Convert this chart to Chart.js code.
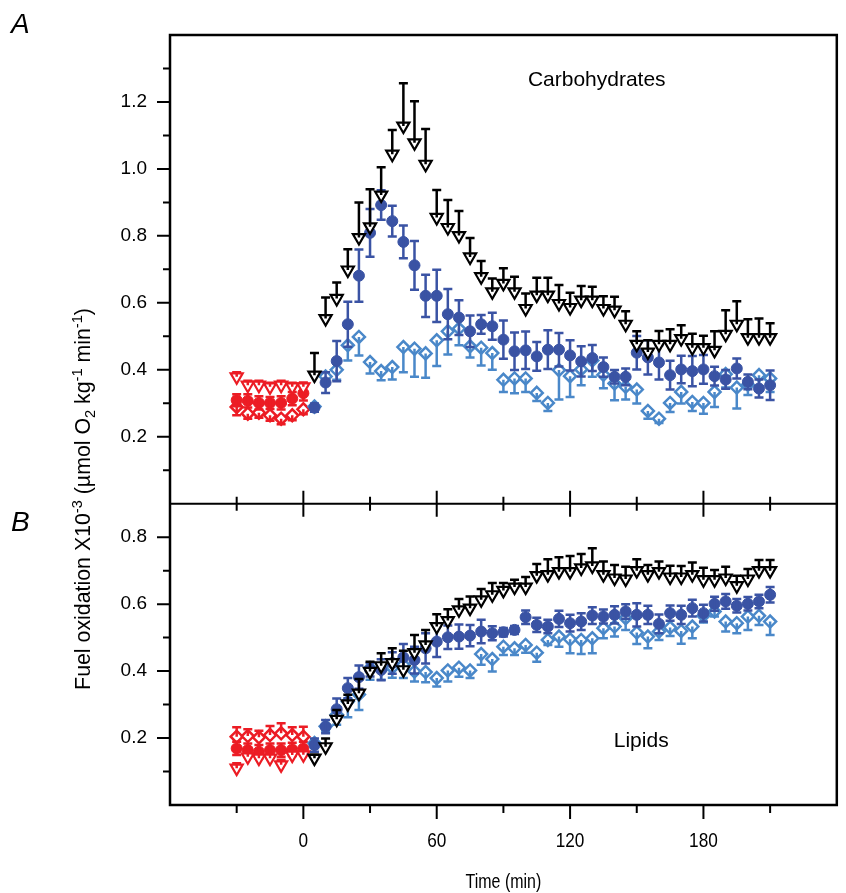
<!DOCTYPE html>
<html>
<head>
<meta charset="utf-8">
<script src="https://cdn.jsdelivr.net/npm/chart.js@4.4.1/dist/chart.umd.min.js"></script>
<style>
  html, body { margin: 0; padding: 0; background: #fff; }
</style>
</head>
<body>
<canvas id="fuelChart" width="846" height="893"></canvas>
<script>
// time points (min)
const baseTime = [-30, -25, -20, -15, -10, -5, 0];
const time = [5, 10, 15, 20, 25, 30, 35, 40, 45, 50, 55, 60, 65, 70, 75, 80, 85, 90, 95, 100,
  105, 110, 115, 120, 125, 130, 135, 140, 145, 150, 155, 160, 165, 170, 175, 180, 185, 190, 195, 200,
  205, 210];

// A: carbohydrates
const carbBaseTri = [0.379, 0.354, 0.354, 0.349, 0.354, 0.349, 0.349];
const carbBaseTriErr = [0.014, 0.013, 0.013, 0.012, 0.013, 0.012, 0.013];
const carbBaseCirc = [0.309, 0.307, 0.301, 0.301, 0.301, 0.314, 0.330];
const carbBaseCircErr = [0.018, 0.02, 0.02, 0.018, 0.02, 0.02, 0.022];
const carbBaseDia = [0.289, 0.269, 0.272, 0.264, 0.254, 0.264, 0.282];
const carbBaseDiaErr = [0.025, 0.015, 0.015, 0.016, 0.017, 0.015, 0.015];

const carbTri = [0.384, 0.553, 0.613, 0.698, 0.795, 0.827, 0.922, 1.044, 1.128, 1.078,
  1.014, 0.855, 0.825, 0.801, 0.737, 0.678, 0.633, 0.658, 0.633, 0.583,
  0.623, 0.623, 0.598, 0.586, 0.608, 0.608, 0.583, 0.578, 0.536, 0.476,
  0.453, 0.476, 0.476, 0.493, 0.466, 0.466, 0.458, 0.506, 0.536, 0.496,
  0.496, 0.496];
const carbTriErr = [0.066, 0.063, 0.048, 0.062, 0.105, 0.112, 0.083, 0.072, 0.128, 0.124,
  0.105, 0.082, 0.082, 0.073, 0.057, 0.047, 0.040, 0.045, 0.045, 0.045,
  0.052, 0.052, 0.055, 0.044, 0.042, 0.040, 0.037, 0.040, 0.039, 0.039,
  0.035, 0.040, 0.045, 0.040, 0.042, 0.036, 0.057, 0.072, 0.069, 0.055,
  0.057, 0.043];
const carbCirc = [0.287, 0.362, 0.426, 0.536, 0.681, 0.809, 0.892, 0.844, 0.782, 0.712,
  0.621, 0.621, 0.566, 0.556, 0.515, 0.536, 0.530, 0.490, 0.455, 0.458,
  0.440, 0.460, 0.460, 0.443, 0.425, 0.435, 0.408, 0.379, 0.379, 0.451,
  0.437, 0.422, 0.384, 0.401, 0.396, 0.401, 0.381, 0.371, 0.404, 0.364,
  0.344, 0.354];
const carbCircErr = [0.012, 0.031, 0.060, 0.067, 0.078, 0.071, 0.044, 0.046, 0.049, 0.073,
  0.063, 0.078, 0.075, 0.052, 0.047, 0.028, 0.040, 0.057, 0.056, 0.056,
  0.043, 0.058, 0.050, 0.045, 0.045, 0.039, 0.029, 0.020, 0.025, 0.050,
  0.051, 0.051, 0.043, 0.041, 0.045, 0.043, 0.028, 0.028, 0.030, 0.022,
  0.027, 0.044];
const carbDia = [0.290, 0.380, 0.400, 0.473, 0.498, 0.423, 0.396, 0.408, 0.468, 0.463,
  0.449, 0.488, 0.515, 0.523, 0.470, 0.466, 0.450, 0.370, 0.374, 0.374,
  0.331, 0.301, 0.399, 0.381, 0.401, 0.428, 0.385, 0.359, 0.349, 0.341,
  0.277, 0.254, 0.301, 0.334, 0.304, 0.301, 0.334, 0.387, 0.347, 0.355,
  0.384, 0.374];
const carbDiaErr = [0.015, 0.02, 0.03, 0.045, 0.055, 0.034, 0.027, 0.037, 0.075, 0.084,
  0.073, 0.077, 0.069, 0.050, 0.033, 0.053, 0.050, 0.036, 0.044, 0.040,
  0.024, 0.024, 0.088, 0.062, 0.047, 0.049, 0.040, 0.050, 0.038, 0.042,
  0.023, 0.013, 0.027, 0.035, 0.027, 0.032, 0.045, 0.040, 0.063, 0.030,
  0.037, 0.040];

// B: lipids
const lipBaseTri = [0.110, 0.144, 0.140, 0.140, 0.120, 0.149, 0.150];
const lipBaseTriErr = [0.015, 0.015, 0.018, 0.015, 0.015, 0.015, 0.015];
const lipBaseCirc = [0.169, 0.164, 0.159, 0.164, 0.164, 0.166, 0.169];
const lipBaseCircErr = [0.02, 0.02, 0.02, 0.02, 0.02, 0.02, 0.02];
const lipBaseDia = [0.204, 0.206, 0.202, 0.209, 0.214, 0.209, 0.204];
const lipBaseDiaErr = [0.028, 0.02, 0.02, 0.027, 0.03, 0.023, 0.03];

const lipTri = [0.140, 0.174, 0.256, 0.302, 0.334, 0.399, 0.416, 0.425, 0.404, 0.455,
  0.478, 0.533, 0.551, 0.583, 0.588, 0.613, 0.628, 0.641, 0.651, 0.651,
  0.685, 0.688, 0.697, 0.697, 0.708, 0.714, 0.688, 0.678, 0.675, 0.700,
  0.688, 0.697, 0.681, 0.681, 0.688, 0.673, 0.673, 0.678, 0.655, 0.675,
  0.700, 0.700];
const lipTriErr = [0.01, 0.025, 0.028, 0.027, 0.042, 0.029, 0.037, 0.043, 0.057, 0.053,
  0.045, 0.037, 0.034, 0.032, 0.035, 0.032, 0.035, 0.022, 0.022, 0.030,
  0.035, 0.046, 0.043, 0.047, 0.042, 0.053, 0.039, 0.039, 0.037, 0.034,
  0.029, 0.030, 0.034, 0.033, 0.036, 0.036, 0.029, 0.034, 0.030, 0.030,
  0.032, 0.032];
const lipCirc = [0.179, 0.234, 0.286, 0.349, 0.382, 0.404, 0.404, 0.424, 0.441, 0.433,
  0.468, 0.488, 0.501, 0.503, 0.506, 0.518, 0.513, 0.516, 0.523, 0.561,
  0.538, 0.533, 0.556, 0.543, 0.548, 0.566, 0.563, 0.568, 0.578, 0.568,
  0.568, 0.541, 0.573, 0.568, 0.588, 0.573, 0.601, 0.608, 0.595, 0.601,
  0.608, 0.628];
const lipCircErr = [0.02, 0.02, 0.032, 0.03, 0.035, 0.02, 0.031, 0.032, 0.04, 0.04,
  0.045, 0.046, 0.035, 0.036, 0.032, 0.035, 0.021, 0.013, 0.012, 0.02,
  0.021, 0.02, 0.024, 0.025, 0.025, 0.025, 0.021, 0.026, 0.022, 0.035,
  0.027, 0.028, 0.023, 0.027, 0.025, 0.025, 0.021, 0.022, 0.02, 0.02,
  0.02, 0.023];
const lipDia = [0.185, 0.235, 0.270, 0.309, 0.330, 0.409, 0.404, 0.410, 0.419, 0.399,
  0.397, 0.379, 0.402, 0.410, 0.402, 0.451, 0.436, 0.473, 0.468, 0.478,
  0.455, 0.493, 0.503, 0.495, 0.493, 0.498, 0.528, 0.533, 0.558, 0.515,
  0.503, 0.518, 0.530, 0.520, 0.533, 0.565, 0.578, 0.548, 0.543, 0.563,
  0.565, 0.548];
const lipDiaErr = [0.015, 0.015, 0.03, 0.047, 0.046, 0.035, 0.03, 0.03, 0.04, 0.03,
  0.03, 0.025, 0.033, 0.027, 0.023, 0.032, 0.037, 0.025, 0.02, 0.023,
  0.027, 0.015, 0.03, 0.042, 0.042, 0.045, 0.03, 0.03, 0.035, 0.034,
  0.035, 0.025, 0.025, 0.038, 0.035, 0.02, 0.015, 0.03, 0.03, 0.04,
  0.027, 0.04];

// axis ticks
const xMajor = [0, 60, 120, 180];
const xMinor = [-30, 30, 90, 150, 210];
const yMajorA = [0.2, 0.4, 0.6, 0.8, 1.0, 1.2];
const yMinorA = [0.1, 0.3, 0.5, 0.7, 0.9, 1.1, 1.3];
const yMajorB = [0.2, 0.4, 0.6, 0.8];
const yMinorB = [0.1, 0.3, 0.5, 0.7];

const BLACK = '#000000';
const DARK = '#3a53a4';
const LIGHT = '#4a88c9';
const RED = '#ec1c24';
const FONT = 'Liberation Sans, Arial, sans-serif';

function triangles(xs, ys, errs, axis, color) {
    return {
        data: xs.map((x, i) => ({ x: x, y: ys[i] })),
        errors: errs, errorDir: 'up', errorColor: color, yAxisID: axis,
        pointStyle: 'triangle', rotation: 180, pointRadius: 7,
        borderColor: color, backgroundColor: '#fff', borderWidth: 2.2
    };
}
function circles(xs, ys, errs, axis, color) {
    return {
        data: xs.map((x, i) => ({ x: x, y: ys[i] })),
        errors: errs, errorDir: 'both', errorColor: color, yAxisID: axis,
        pointStyle: 'circle', pointRadius: 5.5,
        borderColor: color, backgroundColor: color, borderWidth: 1
    };
}
function diamonds(xs, ys, errs, axis, color, dir) {
    return {
        data: xs.map((x, i) => ({ x: x, y: ys[i] })),
        errors: errs, errorDir: dir, errorColor: color, yAxisID: axis,
        pointStyle: 'rectRot', pointRadius: 6,
        borderColor: color, backgroundColor: '#fff', borderWidth: 2.5
    };
}

// first dataset is drawn on top
const datasets = [
    triangles(time, carbTri, carbTriErr, 'yA', BLACK),
    circles(time, carbCirc, carbCircErr, 'yA', DARK),
    diamonds(time, carbDia, carbDiaErr, 'yA', LIGHT, 'down'),
    triangles(baseTime, carbBaseTri, carbBaseTriErr, 'yA', RED),
    circles(baseTime, carbBaseCirc, carbBaseCircErr, 'yA', RED),
    diamonds(baseTime, carbBaseDia, carbBaseDiaErr, 'yA', RED, 'down'),
    triangles(time, lipTri, lipTriErr, 'yB', BLACK),
    circles(time, lipCirc, lipCircErr, 'yB', DARK),
    diamonds(time, lipDia, lipDiaErr, 'yB', LIGHT, 'down'),
    triangles(baseTime, lipBaseTri, lipBaseTriErr, 'yB', RED),
    circles(baseTime, lipBaseCirc, lipBaseCircErr, 'yB', RED),
    diamonds(baseTime, lipBaseDia, lipBaseDiaErr, 'yB', RED, 'up')
];

const errorBars = {
    id: 'errorBars',
    afterDatasetDraw(chart, args) {
        const ds = chart.data.datasets[args.index];
        const yScale = chart.scales[ds.yAxisID];
        const c = chart.ctx;
        c.save();
        c.strokeStyle = ds.errorColor;
        c.lineWidth = 2.5;
        args.meta.data.forEach((pt, i) => {
            const v = ds.data[i].y, e = ds.errors[i];
            const hi = yScale.getPixelForValue(v + e);
            const lo = yScale.getPixelForValue(v - e);
            const top = ds.errorDir === 'down' ? pt.y : hi;
            const bot = ds.errorDir === 'up' ? pt.y : lo;
            c.beginPath();
            c.moveTo(pt.x, top);
            c.lineTo(pt.x, bot);
            if (ds.errorDir !== 'down') { c.moveTo(pt.x - 4.5, hi); c.lineTo(pt.x + 4.5, hi); }
            if (ds.errorDir !== 'up') { c.moveTo(pt.x - 4.5, lo); c.lineTo(pt.x + 4.5, lo); }
            c.stroke();
        });
        c.restore();
    }
};

// condensed text, like the narrow face of the original figure
function narrowText(c, text, x, y, squeeze) {
    c.save();
    c.translate(x, y);
    c.scale(squeeze, 1);
    c.fillText(text, 0, 0);
    c.restore();
}

// frame, divider, tick marks and texts
const frame = {
    id: 'frame',
    afterDraw(chart) {
        const c = chart.ctx;
        const a = chart.chartArea;
        const x = chart.scales.x, yA = chart.scales.yA, yB = chart.scales.yB;
        const mid = yA.bottom;
        c.save();
        c.strokeStyle = '#000';
        c.lineWidth = 2.5;
        c.strokeRect(a.left, a.top, a.right - a.left, a.bottom - a.top);
        c.beginPath();
        c.moveTo(a.left, mid); c.lineTo(a.right, mid);
        c.lineWidth = 2;
        const yTick = (s, v, len) => { const p = s.getPixelForValue(v); c.moveTo(a.left - len, p); c.lineTo(a.left, p); };
        yMajorA.forEach(v => yTick(yA, v, 13));
        yMinorA.forEach(v => yTick(yA, v, 7));
        yMajorB.forEach(v => yTick(yB, v, 13));
        yMinorB.forEach(v => yTick(yB, v, 7));
        xMajor.forEach(v => {
            const p = x.getPixelForValue(v);
            c.moveTo(p, a.bottom); c.lineTo(p, a.bottom + 14);
            c.moveTo(p, mid - 13); c.lineTo(p, mid + 13);
        });
        xMinor.forEach(v => {
            const p = x.getPixelForValue(v);
            c.moveTo(p, a.bottom); c.lineTo(p, a.bottom + 8);
            c.moveTo(p, mid - 7); c.lineTo(p, mid + 7);
        });
        c.stroke();

        c.fillStyle = '#000';
        c.textAlign = 'center';
        c.textBaseline = 'middle';
        c.font = '21px ' + FONT;
        xMajor.forEach(v => narrowText(c, String(v), x.getPixelForValue(v), a.bottom + 36, 0.82));
        narrowText(c, 'Time (min)', (a.left + a.right) / 2, 882, 0.76);

        c.font = '21px ' + FONT;
        c.fillText('Carbohydrates', x.getPixelForValue(132), yA.getPixelForValue(1.264));
        c.fillText('Lipids', x.getPixelForValue(152), yB.getPixelForValue(0.19));

        c.textAlign = 'left';
        c.textBaseline = 'alphabetic';
        c.font = 'italic 28px ' + FONT;
        c.fillText('A', 11, 33);
        c.fillText('B', 11, 531);

        // rotated y title with super/subscripts
        const parts = [
            ['Fuel oxidation X10', 0], ['-3', 1], [' (\u00b5mol O', 0], ['2', -1],
            [' kg', 0], ['-1', 1], [' min', 0], ['-1', 1], [')', 0]
        ];
        const big = '22px ' + FONT;
        const small = '15px ' + FONT;
        let total = 0;
        parts.forEach(p => { c.font = p[1] ? small : big; total += c.measureText(p[0]).width; });
        c.translate(90, 499);
        c.rotate(-Math.PI / 2);
        c.scale(0.97, 1);
        let cx = -total / 2;
        parts.forEach(p => {
            c.font = p[1] ? small : big;
            const dy = p[1] === 1 ? -8 : (p[1] === -1 ? 5 : 0);
            c.fillText(p[0], cx, dy);
            cx += c.measureText(p[0]).width;
        });
        c.restore();
    }
};

const tickFont = { family: FONT, size: 19 };

new Chart(document.getElementById('fuelChart'), {
    type: 'scatter',
    data: { datasets: datasets },
    options: {
        responsive: false,
        animation: false,
        layout: { padding: { top: 35, right: 3, left: 0, bottom: 0 } },
        plugins: { legend: { display: false }, tooltip: { enabled: false } },
        scales: {
            x: {
                type: 'linear', min: -60, max: 240,
                grid: { display: false, drawTicks: false },
                border: { display: false },
                ticks: { display: false, stepSize: 60 },
                afterFit: s => { s.height = 88; s.paddingLeft = 0; s.paddingRight = 0; }
            },
            // stacked left axes: the later one is placed on top
            yB: {
                type: 'linear', position: 'left', stack: 'fuel', stackWeight: 0.9,
                min: 0, max: 0.9,
                grid: { display: false, drawTicks: false },
                border: { display: false },
                ticks: {
                    stepSize: 0.1, autoSkip: false, padding: 23, color: '#000', font: tickFont,
                    callback: v => yMajorB.some(t => Math.abs(t - v) < 1e-6) ? v.toFixed(1) : ''
                },
                afterFit: s => { s.width = 170; }
            },
            yA: {
                type: 'linear', position: 'left', stack: 'fuel', stackWeight: 1.4,
                min: 0, max: 1.4,
                grid: { display: false, drawTicks: false },
                border: { display: false },
                ticks: {
                    stepSize: 0.1, autoSkip: false, padding: 23, color: '#000', font: tickFont,
                    callback: v => yMajorA.some(t => Math.abs(t - v) < 1e-6) ? v.toFixed(1) : ''
                },
                afterFit: s => { s.width = 170; }
            }
        }
    },
    plugins: [errorBars, frame]
});
</script>
</body>
</html>
